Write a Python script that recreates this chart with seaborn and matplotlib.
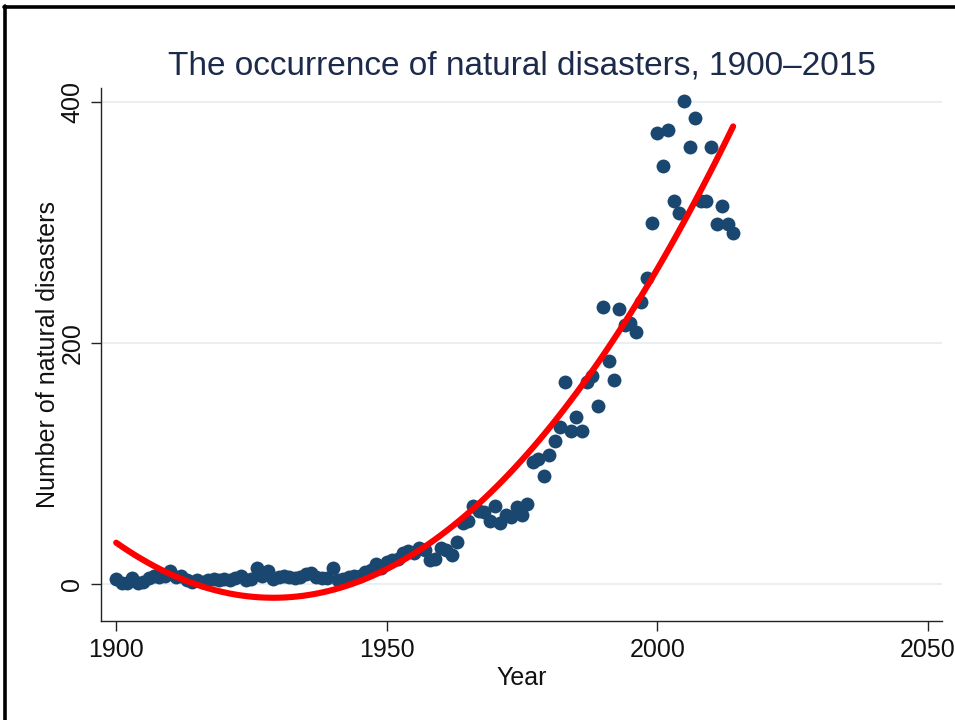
import numpy as np
import pandas as pd
import matplotlib
matplotlib.use("Agg")
import matplotlib.pyplot as plt
from matplotlib.lines import Line2D
import seaborn as sns

# Yearly counts of reported natural disasters
years = list(range(1900, 2015))
counts = [
    # 1900-1909
    4, 1, 1, 5, 1, 2, 5, 7, 6, 7,
    # 1910-1919
    11, 6, 7, 3, 2, 3, 2, 3, 4, 3,
    # 1920-1929
    4, 3, 5, 7, 3, 4, 13, 7, 11, 4,
    # 1930-1939
    6, 7, 6, 5, 6, 8, 9, 6, 5, 5,
    # 1940-1949
    13, 3, 4, 6, 7, 7, 10, 12, 17, 13,
    # 1950-1959
    18, 20, 21, 26, 27, 26, 30, 28, 20, 21,
    # 1960-1969
    30, 28, 24, 35, 51, 52, 65, 61, 60, 52,
    # 1970-1979
    65, 51, 57, 56, 64, 57, 66, 101, 104, 90,
    # 1980-1989
    107, 119, 130, 168, 127, 139, 127, 168, 173, 148,
    # 1990-1999
    230, 185, 169, 228, 215, 217, 209, 234, 254, 300,
    # 2000-2009
    374, 347, 377, 318, 308, 401, 363, 387, 318, 318,
    # 2010-2014
    363, 299, 314, 299, 291,
]

x_ticks = [1900, 1950, 2000, 2050]
y_ticks = [0, 200, 400]

title = "The occurrence of natural disasters, 1900\u20132015"
x_label = "Year"
y_label = "Number of natural disasters"

df = pd.DataFrame({"year": years, "disasters": counts})

sns.set_theme(style="white")
plt.rcParams["font.family"] = ["Liberation Sans", "DejaVu Sans"]

fig = plt.figure(figsize=(9.55, 7.2), dpi=100)
ax = fig.add_axes([0.1058, 0.1375, 0.8806, 0.7400])

navy = "#1a476f"
sns.regplot(
    data=df, x="year", y="disasters", order=2, ci=None, ax=ax,
    scatter_kws=dict(s=100, color=navy, alpha=1, linewidths=0, zorder=3),
    line_kws=dict(color="#ff0000", lw=4.4, zorder=4, solid_capstyle="round"),
)

ax.set_xlim(1897.2, 2052.6)
ax.set_ylim(-30.7, 411.5)
ax.set_xticks(x_ticks)
ax.set_yticks(y_ticks)
ax.set_yticklabels([str(v) for v in y_ticks], rotation=90, va="center")

for v in y_ticks:
    ax.axhline(v, color="#e9eff2", lw=1.4, zorder=1)

for side in ("top", "right"):
    ax.spines[side].set_visible(False)
for side in ("left", "bottom"):
    ax.spines[side].set_color("#222222")
    ax.spines[side].set_linewidth(1.0)

ax.tick_params(axis="both", which="major", direction="out", length=7, width=1.0,
               color="#222222", labelsize=18, labelcolor="#111111",
               left=True, bottom=True, pad=5)

ax.set_xlabel(x_label, fontsize=18, color="#111111", labelpad=3)
ax.set_ylabel(y_label, fontsize=18, color="#111111", labelpad=0.5)
ax.set_title(title, fontsize=24, color="#1c2b4b", pad=10)

# Frame around the graph region (left and top edges)
fig.add_artist(Line2D([0.0055, 0.0055], [0.0, 0.991], transform=fig.transFigure,
                      color="black", lw=2.6))
fig.add_artist(Line2D([0.0042, 1.0], [0.9903, 0.9903], transform=fig.transFigure,
                      color="black", lw=2.6))

fig.savefig("out.png", dpi=100, facecolor="white")
